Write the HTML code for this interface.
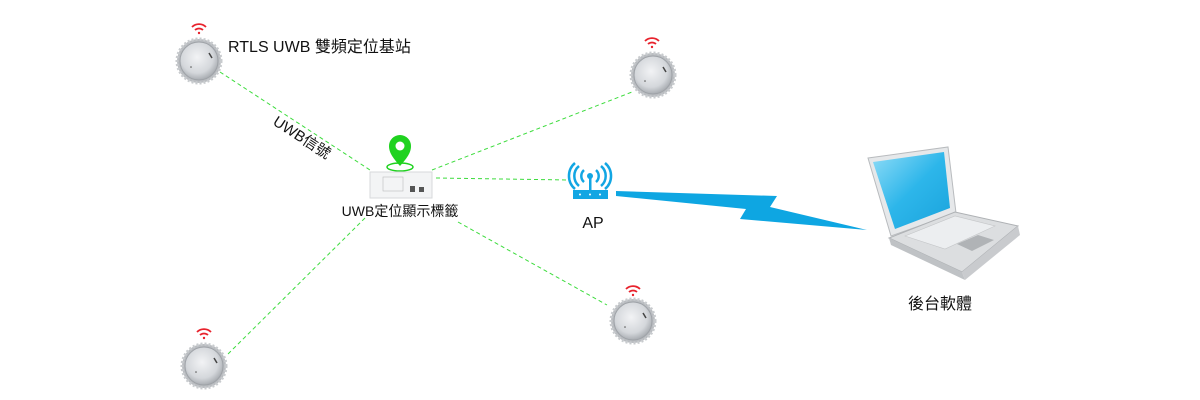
<!DOCTYPE html>
<html><head><meta charset="utf-8"><style>
html,body{margin:0;padding:0;background:#fff;}
svg{display:block;}
text{font-family:"Liberation Sans","Noto Sans CJK TC",sans-serif;fill:#111;}
</style></head><body>
<svg width="1200" height="400" viewBox="0 0 1200 400" xmlns="http://www.w3.org/2000/svg">
<defs>
<radialGradient id="ag" cx="0.45" cy="0.4" r="0.6">
<stop offset="0" stop-color="#f2f3f5"/><stop offset="0.7" stop-color="#d4d7db"/><stop offset="1" stop-color="#a9adb2"/>
</radialGradient>
<linearGradient id="sg" x1="0" y1="0" x2="1" y2="1">
<stop offset="0" stop-color="#8fdcf7"/><stop offset="0.5" stop-color="#2db6ea"/><stop offset="1" stop-color="#1aa3dc"/>
</linearGradient>
<g id="anc">
<circle r="22" fill="#b9bcc0" stroke="#c8cbce" stroke-width="3" stroke-dasharray="2 2"/>
<circle r="19" fill="url(#ag)" stroke="#9ea2a7" stroke-width="1"/>
<path d="M10,-8 l3,5" stroke="#444" stroke-width="1.5"/>
<circle cx="-8" cy="6" r="0.8" fill="#555"/>
</g>
<g id="wf" fill="none" stroke="#e8232d" stroke-width="1.8">
<path d="M-7,-3 A10,10 0 0 1 7,-3"/><path d="M-4,0 A6,6 0 0 1 4,0"/>
<circle cx="0" cy="3" r="1.2" fill="#e8232d" stroke="none"/>
</g>
</defs>
<g stroke="#3ddc3d" stroke-width="1" stroke-dasharray="4 3" fill="none">
<line x1="220" y1="72" x2="370" y2="170"/>
<line x1="432" y1="170" x2="632" y2="92"/>
<line x1="436" y1="178" x2="570" y2="180"/>
<line x1="458" y1="222" x2="607" y2="305"/>
<line x1="365" y1="218" x2="228" y2="354"/>
</g>
<use href="#anc" x="199" y="61"/><use href="#wf" x="199" y="30"/>
<use href="#anc" x="653" y="75"/><use href="#wf" x="652" y="44"/>
<use href="#anc" x="633" y="321"/><use href="#wf" x="633" y="292"/>
<use href="#anc" x="204" y="366"/><use href="#wf" x="204" y="335"/>
<text x="228" y="52" font-size="16">RTLS UWB 雙頻定位基站</text>
<text x="0" y="0" font-size="15" transform="translate(272,124) rotate(33)">UWB信號</text>
<!-- tag -->
<ellipse cx="400" cy="167" rx="13" ry="4" fill="none" stroke="#1fd21f" stroke-width="1.5"/>
<path d="M400,166 C392,157 389,152 389,146 A11,11 0 0 1 411,146 C411,152 408,157 400,166Z" fill="#1fd21f"/>
<circle cx="400" cy="146" r="4.5" fill="#fff"/>
<rect x="370" y="172" width="62" height="26" fill="#f3f4f5" stroke="#d7d9db"/>
<rect x="383" y="177" width="20" height="14" fill="none" stroke="#bbb" stroke-width="0.6"/>
<rect x="410" y="186" width="5" height="6" fill="#555"/><rect x="419" y="187" width="5" height="5" fill="#555"/>
<text x="400" y="216" font-size="14" text-anchor="middle">UWB定位顯示標籤</text>
<!-- AP -->
<g fill="none" stroke="#12a6e3" stroke-width="2.5">
<path d="M584,170 A8,8 0 0 0 584,182"/><path d="M596,170 A8,8 0 0 1 596,182"/>
<path d="M579,166 A13,13 0 0 0 579,186"/><path d="M601,166 A13,13 0 0 1 601,186"/>
<path d="M575,163 A17,17 0 0 0 575,189"/><path d="M605,163 A17,17 0 0 1 605,189"/>
</g>
<circle cx="590" cy="176" r="3" fill="#12a6e3"/>
<rect x="589" y="178" width="2.5" height="12" fill="#12a6e3"/>
<rect x="573" y="190" width="35" height="9" fill="#12a6e3"/>
<g fill="#fff"><circle cx="580" cy="194.5" r="1"/><circle cx="590" cy="194.5" r="1"/><circle cx="600" cy="194.5" r="1"/></g>
<text x="593" y="228" font-size="16" text-anchor="middle">AP</text>
<polygon points="616,191 777,196 770,207 867,230 740,219 746,209 616,196" fill="#0ea6e2"/>
<!-- laptop -->
<polygon points="868,158 948,147 956,213 891,236" fill="#e6e8ea" stroke="#b8bbbe"/>
<polygon points="873,162 944,152 950,208 895,229" fill="url(#sg)"/>
<polygon points="889,238 955,212 1018,226 962,272" fill="#dcdee0" stroke="#aeb1b4"/>
<polygon points="889,238 962,272 965,280 891,245" fill="#bfc2c5"/>
<polygon points="962,272 1018,226 1020,235 965,280" fill="#c9cbce"/>
<polygon points="905,236 955,216 995,226 945,249" fill="#eceef0" stroke="#c4c6c8" stroke-width="0.6"/>
<polygon points="957,244 978,235 994,240 972,251" fill="#b0b3b6"/>
<text x="940" y="309" font-size="16" text-anchor="middle">後台軟體</text>
</svg>
</body></html>
